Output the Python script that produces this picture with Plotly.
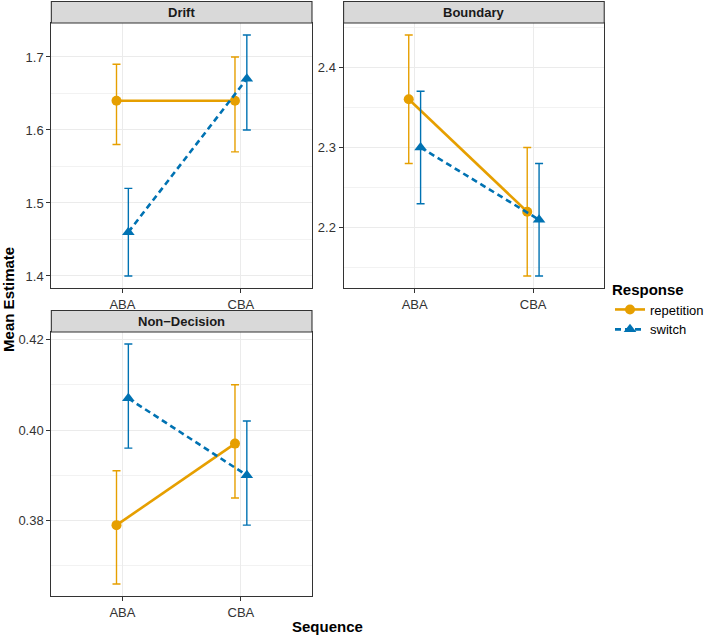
import plotly.graph_objs as go

# data
sequences = ["ABA", "CBA"]
panels = ["Drift", "Boundary", "Non\u2212Decision"]

rep_mean = {"Drift": [1.64, 1.64], "Boundary": [2.36, 2.22], "Non\u2212Decision": [0.379, 0.397]}
rep_low = {"Drift": [1.58, 1.57], "Boundary": [2.28, 2.14], "Non\u2212Decision": [0.366, 0.385]}
rep_high = {"Drift": [1.69, 1.70], "Boundary": [2.44, 2.30], "Non\u2212Decision": [0.391, 0.410]}

sw_mean = {"Drift": [1.46, 1.67], "Boundary": [2.30, 2.21], "Non\u2212Decision": [0.407, 0.390]}
sw_low = {"Drift": [1.40, 1.60], "Boundary": [2.23, 2.14], "Non\u2212Decision": [0.396, 0.379]}
sw_high = {"Drift": [1.52, 1.73], "Boundary": [2.37, 2.28], "Non\u2212Decision": [0.419, 0.402]}

y_dtick = {"Drift": 0.1, "Boundary": 0.1, "Non\u2212Decision": 0.02}
y_format = {"Drift": ".1f", "Boundary": ".1f", "Non\u2212Decision": ".2f"}

W, H = 709, 636
ORANGE = "#E69F00"
BLUE = "#0072B2"
FONT = "Liberation Sans, Arial, sans-serif"

# panel plot areas in pixels (left, right, top, bottom)
boxes = {
    "Drift": (52, 316, 23, 288),
    "Boundary": (348, 612, 23, 288),
    "Non\u2212Decision": (52, 316, 332, 596),
}
strip_h = 21.5

fig = go.Figure()
layout = dict(
    width=W, height=H,
    margin=dict(l=0, r=0, t=0, b=0),
    plot_bgcolor="white", paper_bgcolor="white",
    font=dict(family=FONT, size=13, color="#4D4D4D"),
    shapes=[], annotations=[],
)

dodge = 0.05
for i, p in enumerate(panels):
    n = "" if i == 0 else str(i + 1)
    l, r, t, b = boxes[p]
    xa = dict(
        domain=[l / W, r / W], range=[0.4, 2.6], anchor="y" + n,
        tickmode="array", tickvals=[1, 2], ticktext=sequences,
        showgrid=True, gridcolor="#EBEBEB", gridwidth=1.1,
        showline=True, mirror=True, linecolor="#333333", linewidth=1.1,
        ticks="outside", ticklen=4, tickcolor="#333333", tickwidth=1.1,
        zeroline=False, tickfont=dict(size=13, color="#333333"),
    )
    lo = min(rep_low[p] + sw_low[p])
    hi = max(rep_high[p] + sw_high[p])
    pad = (hi - lo) * 0.05
    dt = y_dtick[p]
    ya = dict(
        domain=[1 - b / H, 1 - t / H], range=[lo - pad, hi + pad], anchor="x" + n,
        tick0=0, dtick=dt, tickformat=y_format[p],
        showgrid=True, gridcolor="#EBEBEB", gridwidth=1.1,
        minor=dict(tick0=0, dtick=dt / 2, showgrid=True, gridcolor="#F2F2F2", gridwidth=0.6),
        showline=True, mirror=True, linecolor="#333333", linewidth=1.1,
        ticks="outside", ticklen=4, tickcolor="#333333", tickwidth=1.1,
        zeroline=False, tickfont=dict(size=13, color="#333333"),
    )
    layout["xaxis" + n] = xa
    layout["yaxis" + n] = ya

    # strip
    layout["shapes"].append(dict(
        type="rect", xref="paper", yref="paper",
        x0=l / W, x1=r / W, y0=1 - t / H, y1=1 - (t - strip_h) / H,
        fillcolor="#D9D9D9", line=dict(color="#333333", width=1.1), layer="above",
    ))
    layout["annotations"].append(dict(
        text="<b>%s</b>" % p, xref="paper", yref="paper",
        x=(l + r) / 2 / W, y=1 - (t - strip_h / 2) / H, showarrow=False,
        font=dict(size=13, color="#1A1A1A", family=FONT), xanchor="center", yanchor="middle",
    ))

    for name, mean, low, high, col, sym, dash, sign in [
        ("repetition", rep_mean, rep_low, rep_high, ORANGE, "circle", "solid", -1),
        ("switch", sw_mean, sw_low, sw_high, BLUE, "triangle-up", "6px,4px", 1),
    ]:
        xs = [k + 1 + sign * dodge for k in range(len(sequences))]
        ys = mean[p]
        fig.add_trace(go.Scatter(
            x=xs, y=ys, xaxis="x" + n, yaxis="y" + n,
            mode="lines+markers", name=name, legendgroup=name, showlegend=(i == 0),
            line=dict(color=col, width=2.6, dash=dash),
            marker=dict(color=col, symbol=sym, size=10 if sym == "circle" else 11),
            error_y=dict(
                type="data", symmetric=False,
                array=[h - m for h, m in zip(high[p], ys)],
                arrayminus=[m - lo_ for m, lo_ in zip(ys, low[p])],
                color=col, thickness=1.4, width=4,
            ),
        ))

layout["annotations"] += [
    dict(text="<b>Mean Estimate</b>", xref="paper", yref="paper", x=9 / W, y=1 - 299 / H,
         textangle=-90, showarrow=False, font=dict(size=15, color="black"),
         xanchor="center", yanchor="middle"),
    dict(text="<b>Sequence</b>", xref="paper", yref="paper", x=332 / W, y=1 - 626 / H,
         showarrow=False, font=dict(size=15, color="black"),
         xanchor="center", yanchor="middle"),
]
layout["legend"] = dict(
    title=dict(text="<b>Response</b>", font=dict(size=15, color="black")),
    x=618 / W, y=1 - 275 / H, xanchor="left", yanchor="top",
    font=dict(size=13, color="black"), itemwidth=30, tracegroupgap=0,
    bgcolor="rgba(0,0,0,0)",
)
fig.update_layout(**layout)
# drop the default page margin so the figure sits at the window's corner
fig.write_html("out.html", config={"displayModeBar": False},
               post_script="document.body.style.margin='0';")
